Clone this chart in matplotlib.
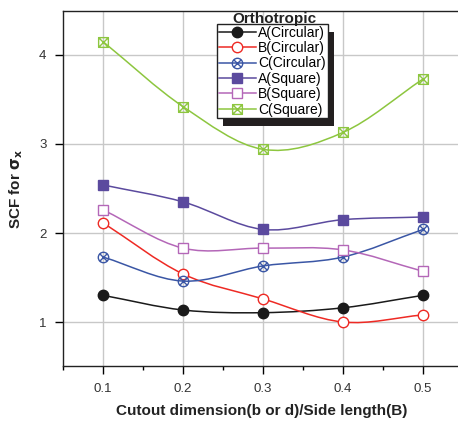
import matplotlib
matplotlib.use("Agg")
import matplotlib.pyplot as plt
from matplotlib.path import Path
from matplotlib.patches import PathPatch, Rectangle
from matplotlib.lines import Line2D

plt.rcParams['font.family'] = ['Liberation Sans', 'DejaVu Sans']

# data
ratio = [0.1, 0.2, 0.3, 0.4, 0.5]
a_circ = [1.30, 1.135, 1.105, 1.16, 1.30]
b_circ = [2.115, 1.54, 1.26, 1.00, 1.08]
c_circ = [1.73, 1.46, 1.63, 1.73, 2.04]
a_sq = [2.54, 2.35, 2.04, 2.15, 2.18]
b_sq = [2.26, 1.83, 1.83, 1.81, 1.57]
c_sq = [4.15, 3.42, 2.94, 3.13, 3.73]
labels = ['A(Circular)', 'B(Circular)', 'C(Circular)', 'A(Square)', 'B(Square)', 'C(Square)']

# marker shapes: circle with x, square with x
circ_x = Path.make_compound_path(Path.unit_circle(),
                                 Path([(-0.7, -0.7), (0.7, 0.7)]),
                                 Path([(-0.7, 0.7), (0.7, -0.7)]))
sq = Path([(-1, -1), (1, -1), (1, 1), (-1, 1), (-1, -1)])
sq_x = Path.make_compound_path(sq, Path([(-1, -1), (1, 1)]), Path([(-1, 1), (1, -1)]))

styles = [
    dict(color='#1a1a1a', marker='o', mfc='#1a1a1a', ms=7.5),
    dict(color='#ee2a24', marker='o', mfc='white', ms=7.5),
    dict(color='#3a56a5', marker=circ_x, mfc='none', ms=7.5),
    dict(color='#5b4a9e', marker='s', mfc='#5b4a9e', ms=7),
    dict(color='#b467b8', marker='s', mfc='white', ms=7),
    dict(color='#8dc63f', marker=sq_x, mfc='none', ms=7),
]


def smooth_path(x, y):
    # cubic bezier through the points (catmull-rom tangents)
    pts = list(zip(x, y))
    n = len(pts)
    tan = []
    for i in range(n):
        if i == 0:
            tan.append((pts[1][0] - pts[0][0], pts[1][1] - pts[0][1]))
        elif i == n - 1:
            tan.append((pts[-1][0] - pts[-2][0], pts[-1][1] - pts[-2][1]))
        else:
            tan.append(((pts[i + 1][0] - pts[i - 1][0]) / 2, (pts[i + 1][1] - pts[i - 1][1]) / 2))
    verts = [pts[0]]
    codes = [Path.MOVETO]
    for i in range(n - 1):
        c1 = (pts[i][0] + tan[i][0] / 3, pts[i][1] + tan[i][1] / 3)
        c2 = (pts[i + 1][0] - tan[i + 1][0] / 3, pts[i + 1][1] - tan[i + 1][1] / 3)
        verts += [c1, c2, pts[i + 1]]
        codes += [Path.CURVE4] * 3
    return Path(verts, codes)


W, H = 458, 425
ax_l, ax_r, ax_t, ax_b = 63, 461, 11, 366   # axes box in pixels
fig = plt.figure(figsize=(W / 100, H / 100), dpi=100)
ax = fig.add_axes([ax_l / W, 1 - ax_b / H, (ax_r - ax_l) / W, (ax_b - ax_t) / H])

series = [a_circ, b_circ, c_circ, a_sq, b_sq, c_sq]
handles = []
for vals, st, lab in zip(series, styles, labels):
    ax.add_patch(PathPatch(smooth_path(ratio, vals), fill=False,
                           edgecolor=st['color'], lw=1.1, zorder=2))
    ax.plot(ratio, vals, ls='none', marker=st['marker'], color=st['color'],
            mfc=st['mfc'], mec=st['color'], ms=st['ms'], mew=1.0, zorder=3)
    handles.append(Line2D([], [], color=st['color'], lw=1.1, marker=st['marker'],
                          mfc=st['mfc'], mec=st['color'], ms=st['ms'], mew=1.0))

ax.set_xlim(0.05, 0.5475)
ax.set_ylim(0.506, 4.494)
ax.set_xticks(ratio)
ax.set_xticklabels(['0.1', '0.2', '0.3', '0.4', '0.5'])
ax.set_xticks([0.05, 0.15, 0.25, 0.35, 0.45], minor=True)
ax.set_yticks([1, 2, 3, 4])
ax.grid(True, which='major', color='#c8c8c8', lw=1.0)
ax.set_axisbelow(True)
ax.tick_params(axis='both', which='major', direction='out', length=6, width=1,
               labelsize=9.5, labelcolor='#333333', pad=6)
ax.tick_params(axis='x', which='minor', direction='out', length=3, width=1)
for s in ax.spines.values():
    s.set_linewidth(1.0)
    s.set_color('#222222')

ax.set_xlabel('Cutout dimension(b or d)/Side length(B)', fontsize=11,
              fontweight='bold', color='#222222', labelpad=7)
ax.set_ylabel(r'SCF for $\mathbf{\sigma_x}$', fontsize=11, fontweight='bold',
              color='#222222', labelpad=10)

leg = ax.legend(handles, labels, loc='upper left',
                bbox_to_anchor=((217 - ax_l) / (ax_r - ax_l), (ax_b - 24) / (ax_b - ax_t)),
                borderaxespad=0, fontsize=10, handlelength=2.7, handletextpad=0.15,
                labelspacing=0.1, borderpad=0.12, fancybox=False, framealpha=1,
                edgecolor='#222222')
leg.get_frame().set_linewidth(1.0)
leg.set_zorder(6)

fig.text(274 / W, 1 - 23 / H, 'Orthotropic', fontsize=11, fontweight='bold',
         ha='center', va='baseline', color='#222222')

# dark offset shadow behind the legend box
fig.canvas.draw()
bb = leg.get_window_extent().transformed(ax.transAxes.inverted())
dx = 6 / (ax_r - ax_l)
dy = 8 / (ax_b - ax_t)
ax.add_patch(Rectangle((bb.x0 + dx, bb.y0 - dy), bb.width, bb.height,
                       transform=ax.transAxes, facecolor='#231f20',
                       edgecolor='none', zorder=5.5, clip_on=False))

fig.savefig('out.png', dpi=100)
